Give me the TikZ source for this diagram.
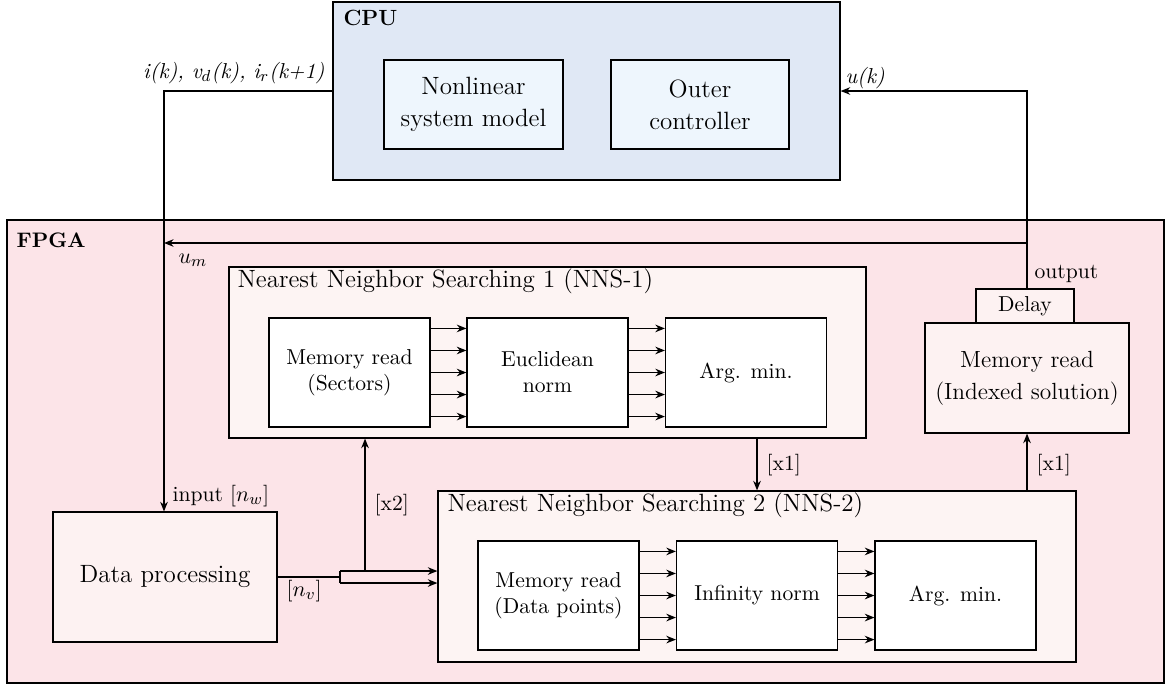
\documentclass[tikz,border=0pt]{standalone}
\usetikzlibrary{arrows.meta,calc}
\definecolor{cpufill}{HTML}{E0E8F5}
\definecolor{cpuin}{HTML}{EEF6FD}
\definecolor{fpgafill}{HTML}{FCE4E8}
\definecolor{nnsfill}{HTML}{FDF4F3}
\definecolor{dpfill}{HTML}{FDF2F2}
\begin{document}
\begin{tikzpicture}[x=0.5pt,y=-0.5pt,
  line width=0.6pt,
  >={Stealth[length=4.8pt,width=3.8pt]},
  box/.style={draw, inner sep=0pt, align=center},
  bw/.style={minimum width=#1*0.5pt},
  bh/.style={minimum height=#1*0.5pt},
  inner/.style={box, fill=white, font=\fontsize{10.8}{13}\selectfont, minimum width=80.5pt, minimum height=54.5pt},
  lab/.style={inner sep=1pt, font=\fontsize{10.8}{13}\selectfont},
  title/.style={inner sep=0pt, font=\fontsize{12.5}{15}\selectfont, anchor=west}
]
\useasboundingbox (0,0) rectangle (1165,686);
% CPU
\node[box, fill=cpufill, bw=507, bh=178] (cpu) at (586.5,91) {};
\node[inner sep=0pt, anchor=west, font=\fontsize{11}{13}\selectfont\bfseries] (cpulab) at (343,18) {CPU};
\node[box, fill=cpuin, bw=179, bh=89, font=\fontsize{12.5}{16}\selectfont] (nsm) at (473.5,104.5) {Nonlinear\\system model};
\node[box, fill=cpuin, bw=178, bh=89, font=\fontsize{12.5}{16}\selectfont] (oc) at (700,104.5) {Outer\\controller};
% FPGA
\node[box, fill=fpgafill, bw=1157, bh=463] (fpga) at (585.5,451.5) {};
\node[inner sep=0pt, anchor=west, font=\fontsize{10.5}{13}\selectfont\bfseries] (fpgalab) at (16,240) {FPGA};
% NNS-1
\node[box, fill=nnsfill, bw=637, bh=171] (nns1) at (547.5,352.5) {};
\node[title] (t1) at (237,281) {Nearest Neighbor Searching 1 (NNS-1)};
\node[inner] (mr1) at (349.5,372.5) {Memory read\\(Sectors)};
\node[inner] (en) at (547.5,372.5) {Euclidean\\norm};
\node[inner] (am1) at (746,372.5) {Arg. min.};
% NNS-2
\node[box, fill=nnsfill, bw=638, bh=171] (nns2) at (757,576.5) {};
\node[title] (t2) at (447,505) {Nearest Neighbor Searching 2 (NNS-2)};
\node[inner] (mr2) at (558.5,595.5) {Memory read\\(Data points)};
\node[inner] (inf) at (757,595.5) {Infinity norm};
\node[inner] (am2) at (955.5,595.5) {Arg. min.};
% Data processing
\node[box, fill=dpfill, bw=224, bh=130, font=\fontsize{12.5}{15}\selectfont] (dp) at (165,577) {Data processing};
% Memory read indexed
\node[box, fill=dpfill, bw=204, bh=110, font=\fontsize{11.7}{16}\selectfont] (mri) at (1027,378) {Memory read\\(Indexed solution)};
\node[box, fill=dpfill, bw=98, bh=34, font=\fontsize{10.8}{13}\selectfont] (delay) at (1025,306) {Delay};
% inner arrows
\foreach \a/\b in {mr1/en, en/am1, mr2/inf, inf/am2}{
  \foreach \f in {0.1,0.3,0.5,0.7,0.9}{
    \draw[->] ($(\a.north east)!\f!(\a.south east)$) -- ($(\b.north west)!\f!(\b.south west)$);
  }
}
% feedback from output
\coordinate (otop) at (1027,91);
\coordinate (omid) at (1027,243);
\coordinate (lm) at (164,243);
\draw[->] (mri.north |- delay.north) -- (otop) -- (cpu.east |- otop);
\draw[->] (omid) -- (lm);
% CPU to data processing
\coordinate (lt) at (164,91);
\draw[->] (cpu.west |- lt) -- (lt) -- (lt |- dp.north);
% bus
\coordinate (bt) at (340,571);
\coordinate (bb) at (340,583);
\coordinate (bx) at (365,571);
\draw (dp.east) -- (bt |- dp.east);
\draw (bt) -- (bb);
\draw[->] (bt) -- (bt -| nns2.west);
\draw[->] (bb) -- (bb -| nns2.west);
\draw[->] (bx) -- (bx |- nns1.south);
% between stages
\draw[->] (nns1.south -| nns2.north) -- (nns2.north);
\draw[->] (mri.south |- nns2.north) -- (mri.south);
% labels
\node[lab, anchor=east] (lin) at (327,73) {\textit{i(k), v$_d$(k), i$_r$(k+1)}};
\node[lab, anchor=west] (luk) at (843,78) {\textit{u(k)}};
\node[lab, anchor=west] (lum) at (176,260) {$u_m$};
\node[lab, anchor=west] (linp) at (170,496) {input [$n_w$]};
\node[lab, anchor=west] (lnv) at (284,591) {[$n_v$]};
\node[lab, anchor=west] (lx2) at (372,505) {[x2]};
\node[lab, anchor=west] (lx1a) at (764,465) {[x1]};
\node[lab, anchor=west] (lx1b) at (1034,465) {[x1]};
\node[lab, anchor=west] (lout) at (1032,274) {output};
\end{tikzpicture}
\end{document}
